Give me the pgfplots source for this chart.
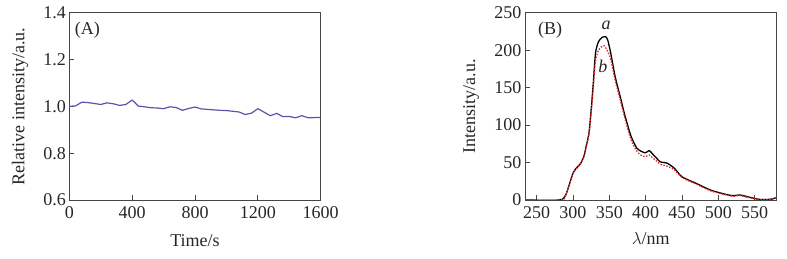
\documentclass[border=0pt]{standalone}
\usepackage{pgfplots}
\pgfplotsset{compat=1.18}
\usepackage{fontspec}
\setmainfont{Liberation Serif}
\definecolor{lineA}{RGB}{92,84,170}
\definecolor{redB}{RGB}{232,40,40}
\definecolor{axgray}{RGB}{70,70,70}
\pgfplotsset{every axis/.append style={
  scale only axis, width=251.4pt, height=187.3pt,
  tick align=inside, xtick pos=bottom, ytick pos=left,
  major tick length=5pt,
  axis line style={axgray, line width=0.9pt},
  tick style={axgray, line width=0.9pt},
  tick label style={font=\fontsize{18}{18}\selectfont, text=black!85},
  xticklabel style={yshift=-3pt},
  label style={font=\fontsize{18}{18}\selectfont, text=black!85},
  /pgf/number format/assume math mode=true,
  clip=true
}}
\begin{document}
\begin{tikzpicture}
\useasboundingbox (0pt,0pt) rectangle (787pt,259pt);
% Panel A
\begin{axis}[at={(69.3pt,59pt)}, anchor=south west,
  xmin=0, xmax=1600, ymin=0.6, ymax=1.4,
  xtick={0,400,800,1200,1600}, ytick={0.6,0.8,1.0,1.2,1.4},
  xticklabel style={/pgf/number format/.cd, set thousands separator={}},
  yticklabel style={/pgf/number format/.cd, fixed, fixed zerofill, precision=1},
  xlabel={Time/s}, ylabel={Relative intensity/a.u.},
  xlabel style={at={(axis description cs:0.5,-0.217)}, anchor=center},
  ylabel style={at={(axis description cs:-0.196,0.5)}, anchor=center, rotate=0},
]
\addplot[lineA, line width=1.2pt] coordinates {
(0,1.000) (40,1.002) (80,1.018) (120,1.016) (160,1.012) (200,1.008) (240,1.015) (280,1.011) (320,1.004) (360,1.008) (400,1.027)
(440,1.001) (480,0.998) (520,0.994) (560,0.993) (600,0.990) (640,0.998) (680,0.995) (720,0.983) (760,0.991) (800,0.997)
(840,0.989) (880,0.987) (920,0.985) (960,0.983) (1000,0.982) (1040,0.979) (1080,0.976) (1120,0.965) (1160,0.971) (1200,0.990)
(1240,0.975) (1280,0.960) (1320,0.970) (1360,0.956) (1400,0.957) (1440,0.951) (1480,0.960) (1520,0.951) (1560,0.952) (1600,0.952)
};
\node[font=\fontsize{18}{18}\selectfont, text=black!85] at (rel axis cs:0.072,0.905) {(A)};
\end{axis}
% Panel B
\begin{axis}[at={(525pt,59pt)}, anchor=south west,
  xmin=234, xmax=580, ymin=0, ymax=250,
  xtick={250,300,350,400,450,500,550}, ytick={0,50,100,150,200,250},
  xlabel={$\lambda$/nm}, ylabel={Intensity/a.u.},
  xlabel style={at={(axis description cs:0.5,-0.208)}, anchor=center},
  ylabel style={at={(axis description cs:-0.214,0.5)}, anchor=center, rotate=0},
]
\addplot[black, line width=1.3pt, smooth, tension=0.4] coordinates {
(234,0) (281,0) (290,6.7) (300,35.6) (305,43) (310,48) (315,58) (318,71) (322,89) (325,120) (328,156) (331,196) (335,211)
(340,217) (345,218) (348,213) (352,196) (358,165) (365,138) (372,111) (380,85) (388,69) (395,64.5) (400,63) (405,66)
(410,61) (415,56) (420,51) (430,49) (440,42) (450,31) (470,22) (490,13) (510,7.6) (520,5.8) (530,6.7) (540,4.4)
(555,1) (565,0.5) (575,1.5) (580,3.5)
};
\addplot[redB, line width=1.3pt, dash pattern=on 1.5pt off 1.5pt, smooth, tension=0.4] coordinates {
(234,0) (283,0) (290,6) (300,35) (305,42) (310,48) (315,57) (318,70) (322,88) (325,115) (328,150) (331,185) (335,200)
(340,205) (343,206) (347,200) (352,188) (358,160) (365,134) (372,107) (380,80) (388,65) (395,59) (400,58) (405,60)
(410,56) (415,52) (420,48) (430,45) (440,40) (450,30) (470,21) (490,12) (510,7) (520,5) (530,6) (540,3.5)
(555,1) (565,0.5) (575,1.5) (580,3)
};
\node[font=\fontsize{18}{18}\selectfont, text=black!85] at (rel axis cs:0.1,0.905) {(B)};
\node[font=\itshape\fontsize{18}{18}\selectfont, text=black!85] at (axis cs:345.8,233.5) {a};
\node[font=\itshape\fontsize{18}{18}\selectfont, text=black!85] at (axis cs:341,178) {b};
\end{axis}
\end{tikzpicture}
\end{document}
